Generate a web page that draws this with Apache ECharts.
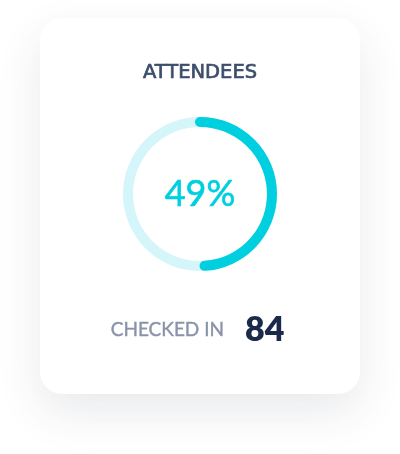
<!DOCTYPE html>
<html>
<head>
<meta charset="utf-8">
<script src="https://cdn.jsdelivr.net/npm/echarts@6/dist/echarts.min.js"></script>
<style>
html,body{margin:0;padding:0;background:#ffffff;}
#chart{width:400px;height:454px;}
</style>
</head>
<body>
<div id="chart"></div>
<script>
const titleText = 'ATTENDEES';
const percentValues = [49];
const footerLabel = 'CHECKED IN';
const checkedInCount = [84];

const chart = echarts.init(document.getElementById('chart'), null, {renderer: 'canvas'});
const fontFam = 'Lato, "Noto Sans", sans-serif';

chart.setOption({
  backgroundColor: '#ffffff',
  animation: false,
  graphic: [
    {
      type: 'rect', z: 0,
      shape: {x: 40, y: 18, width: 320, height: 376, r: 22},
      style: {fill: '#ffffff', shadowBlur: 45, shadowOffsetY: 18, shadowColor: 'rgba(40,50,70,0.10)'}
    },
    {
      type: 'text', z: 10,
      style: {text: footerLabel, x: 224, y: 330, textAlign: 'right', textVerticalAlign: 'middle',
        font: '400 19px ' + fontFam, fill: '#8a93a8', stroke: '#8a93a8', lineWidth: 0.4}
    },
    {
      type: 'text', z: 10,
      style: {text: String(checkedInCount[0]), x: 245, y: 330, textAlign: 'left', textVerticalAlign: 'middle',
        font: '800 34px ' + fontFam, fill: '#1b2a4b'}
    }
  ],
  title: {
    text: titleText,
    left: 'center',
    top: 58,
    textStyle: {fontFamily: '"DejaVu Sans", sans-serif', fontSize: 19.5, fontWeight: 400, color: '#3d4e6d',
      textBorderColor: '#3d4e6d', textBorderWidth: 0.7}
  },
  series: [{
    type: 'gauge',
    center: [200, 194],
    radius: 77,
    startAngle: 90,
    endAngle: -270,
    min: 0,
    max: 100,
    pointer: {show: false},
    axisTick: {show: false},
    splitLine: {show: false},
    axisLabel: {show: false},
    anchor: {show: false},
    title: {show: false},
    axisLine: {lineStyle: {width: 10, color: [[1, '#d4f5f9']]}},
    progress: {show: true, roundCap: true, width: 10, itemStyle: {color: '#00cfe0'}},
    detail: {
      valueAnimation: false,
      offsetCenter: [0, 0],
      formatter: '{value}%',
      fontFamily: fontFam,
      fontSize: 36,
      fontWeight: 400,
      color: '#00cfe0',
      textBorderColor: '#00cfe0',
      textBorderWidth: 0.6
    },
    data: percentValues.map(v => ({value: v}))
  }]
});
</script>
</body>
</html>
